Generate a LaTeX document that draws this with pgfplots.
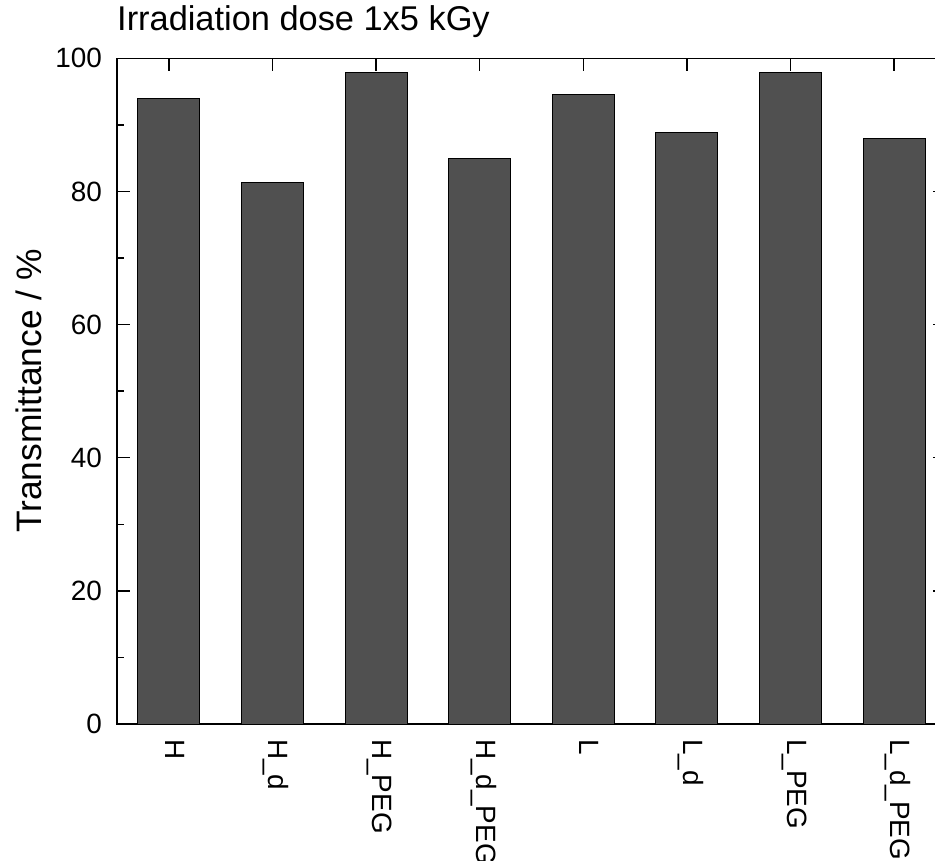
\documentclass[border=0pt]{standalone}
\usepackage{fontspec}
\setmainfont{Liberation Sans}
\usepackage{pgfplots}
\pgfplotsset{compat=1.18}
\definecolor{barfill}{RGB}{80,80,80}

\begin{document}
\begin{tikzpicture}
\begin{axis}[
  at={(0,0)}, anchor=south west,
  scale only axis, width=829bp, height=665.7bp,
  xmin=-0.5, xmax=7.5, ymin=0, ymax=100,
  ytick={0,20,...,100}, minor y tick num=1,
  xtick={0,...,7},
  xticklabels={H,H\_d,H\_PEG,H\_d\_PEG,L,L\_d,L\_PEG,L\_d\_PEG},
  tick align=inside,
  major tick length=13bp, minor tick length=6.5bp,
  axis line style={line width=1.5bp},
  every tick/.style={line width=1.5bp, black},
  /pgf/number format/assume math mode=true,
  ticklabel style={font=\fontsize{28}{28}\selectfont},
  yticklabel style={anchor=east, inner xsep=15bp, inner ysep=0pt},
  xticklabel style={rotate=-90, anchor=west, inner xsep=15bp, inner ysep=0pt,
                    text height=0.716em, text depth=0pt},
  title={Irradiation dose 1x5 kGy},
  title style={at={(axis description cs:0,1)}, anchor=base west,
               yshift=22bp, inner sep=0pt, font=\fontsize{34.5}{34.5}\selectfont},
  ylabel={Transmittance / \%},
  ylabel style={at={(axis description cs:-0.0905,0.5)}, anchor=base,
                inner sep=0pt, font=\fontsize{35.5}{35.5}\selectfont},
]
\addplot[ybar, bar width=62bp, fill=barfill, draw=black, line width=1bp]
  coordinates {
    (0,94.0) (1,81.3) (2,97.8) (3,84.9)
    (4,94.6) (5,88.8) (6,97.9) (7,87.9)
  };
\end{axis}
\pgfresetboundingbox
\useasboundingbox (-117bp,-137bp) rectangle (818bp,724bp);
\end{tikzpicture}
\end{document}
